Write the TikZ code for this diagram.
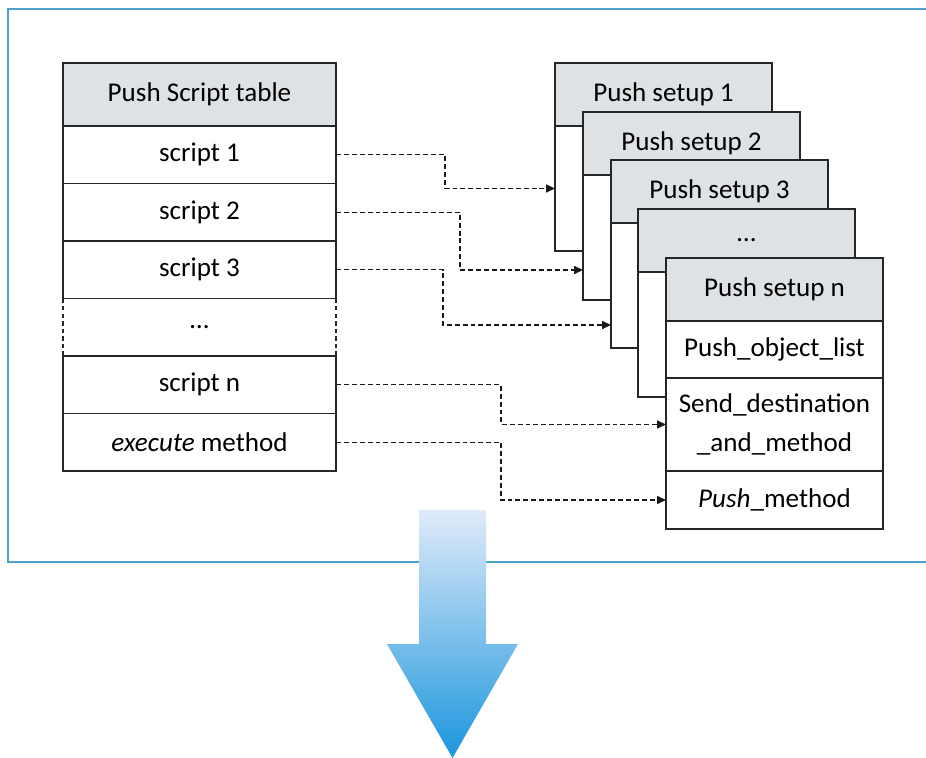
\documentclass[tikz,border=0pt]{standalone}
\usepackage{fontspec}
\setmainfont{Carlito}
\usepackage{tikz}
\usetikzlibrary{arrows.meta, positioning, calc}
\definecolor{HDRgrey}{RGB}{223, 226, 229}
\definecolor{FRAMEblue}{RGB}{75, 163, 204}
\definecolor{ARRtop}{RGB}{224, 235, 249}
\definecolor{ARRbot}{RGB}{27, 150, 221}
\tikzset{every node/.style={font=\fontsize{15.4pt}{22pt}\selectfont}, every path/.style={line join=miter}}

\begin{document}
\begin{tikzpicture}[
    tblhead/.style={
        draw=black!85,
        fill=HDRgrey,
        line width=1pt,
        outer sep=0pt,
        inner sep=0pt,
        minimum width=5.46cm,
        minimum height=1.26cm,
        anchor=north west
    },
    tblrow/.style={
        draw=black!85,
        line width=1pt,
        outer sep=0pt,
        inner sep=0pt,
        minimum width=5.46cm,
        minimum height=1.15cm
    },
    sethead/.style={
        draw=black!85,
        fill=HDRgrey,
        line width=0.9pt,
        outer sep=0pt,
        inner sep=0pt,
        minimum width=4.34cm,
        minimum height=1.26cm,
        anchor=north west
    },
    setbody/.style={
        draw=black!85,
        fill=white,
        line width=0.9pt,
        outer sep=0pt,
        inner sep=0pt,
        minimum width=4.34cm,
        minimum height=2.5cm
    },
    setrow/.style={
        draw=black!85,
        fill=white,
        line width=0.9pt,
        outer sep=0pt,
        inner sep=0pt,
        align=center,
        minimum width=4.34cm,
        minimum height=1.14cm
    },
    sidedash/.style={draw=black!85, line width=0.9pt, dash pattern=on 2.5pt off 1.8pt},
    link/.style={-{Triangle[length=5pt, width=4.5pt]}, draw=black!90, line width=0.75pt, dash pattern=on 2.8pt off 1.7pt},
    frameline/.style={draw=FRAMEblue, line width=1.1pt}
]

\useasboundingbox (0,0) rectangle (18.52,-15.16);

\draw[frameline] (18.52,-0.18) -- (0.16,-0.18) -- (0.16,-11.24) -- (18.52,-11.24);

\node[tblhead] (tbl_head) at (1.26,-1.26) {Push Script table};
\node[tblrow, below=0pt of tbl_head] (scr_1) {script 1};
\node[tblrow, below=0pt of scr_1] (scr_2) {script 2};
\node[tblrow, below=0pt of scr_2] (scr_3) {script 3};
\node[tblrow, draw=none, below=0pt of scr_3] (scr_dots) {…};
\node[tblrow, below=0pt of scr_dots] (scr_n) {script n};
\node[tblrow, below=0pt of scr_n] (scr_exec) {\textit{execute} method};
\draw[sidedash] (scr_dots.north west) -- (scr_dots.south west);
\draw[sidedash] (scr_dots.north east) -- (scr_dots.south east);

\node[sethead] (set_1) at (11.10,-1.26) {Push setup 1};
\node[setbody, below=0pt of set_1] (set_1b) {};
\node[sethead] (set_2) at (11.66,-2.24) {Push setup 2};
\node[setbody, below=0pt of set_2] (set_2b) {};
\node[sethead] (set_3) at (12.22,-3.20) {Push setup 3};
\node[setbody, below=0pt of set_3] (set_3b) {};
\node[sethead] (set_4) at (12.76,-4.18) {…};
\node[setbody, below=0pt of set_4] (set_4b) {};

\node[sethead] (set_n) at (13.32,-5.16) {Push setup n};
\node[setrow, below=0pt of set_n] (obj_list) {Push\_object\_list};
\node[setrow, minimum height=1.86cm, below=0pt of obj_list] (send_dest)
{Send\_destination\\\_and\_method};
\node[setrow, minimum height=1.16cm, below=0pt of send_dest] (push_meth) {\textit{Push}\_method};

\draw[link] (scr_1.east) -- ++(2.18,0) |- (set_1b.west);
\draw[link] (scr_2.east) -- ++(2.48,0) |- ([yshift=-0.65cm]set_2b.west);
\draw[link] (scr_3.east) -- ++(2.14,0) |- ([yshift=-0.79cm]set_3b.west);
\draw[link] (scr_n.east) -- ++(3.30,0) |- (send_dest.west);
\draw[link] (scr_exec.east) -- ++(3.30,0) |- (push_meth.west);

\shade[top color=ARRtop, bottom color=ARRbot]
(8.38,-10.20) -- (9.72,-10.20) -- (9.72,-12.88) -- (10.36,-12.88)
-- (9.05,-15.16) -- (7.74,-12.88) -- (8.38,-12.88) -- cycle;

\end{tikzpicture}
\end{document}
